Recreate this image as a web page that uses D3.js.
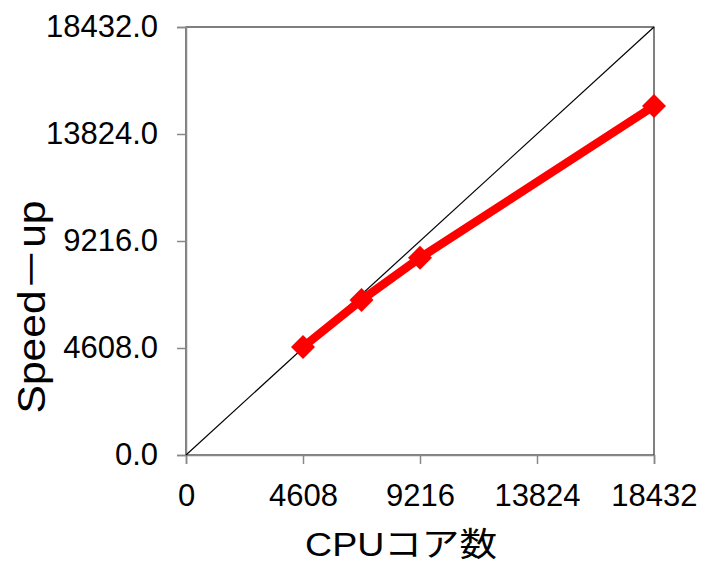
<!DOCTYPE html>
<html><head><meta charset="utf-8">
<script src="https://cdn.jsdelivr.net/npm/d3@7"></script>
<style>body{margin:0;background:#fff}text{font-family:"Liberation Sans","Noto Sans CJK JP",sans-serif;fill:#000}</style>
</head><body>
<svg id="c" width="705" height="562"></svg>
<script>
const cores = [4608, 6912, 9216, 18432];
const speedup = [4650, 6675, 8490, 15030];
const ideal = [0, 18432];
const xTicks = [0, 4608, 9216, 13824, 18432];
const yTicks = [0, 4608, 9216, 13824, 18432];

const svg = d3.select("#c");
const L = 186, R = 654, T = 27, B = 455;
const x = d3.scaleLinear().domain([0, 18432]).range([L, R]);
const y = d3.scaleLinear().domain([0, 18432]).range([B, T]);

svg.append("rect").attr("x", L).attr("y", T).attr("width", R - L).attr("height", B - T)
  .attr("fill", "none").attr("stroke", "#000").attr("stroke-width", 1);

const xa = svg.append("g").attr("transform", `translate(0,${B})`)
  .call(d3.axisBottom(x).tickValues(xTicks).tickSize(9).tickPadding(20).tickFormat(d3.format("d")));
const ya = svg.append("g").attr("transform", `translate(${L},0)`)
  .call(d3.axisLeft(y).tickValues(yTicks).tickSize(9).tickPadding(19).tickFormat(d3.format(".1f")));
[xa, ya].forEach(a => {
  a.select(".domain").attr("stroke", "#888").attr("stroke-width", 1.5);
  a.selectAll(".tick line").attr("stroke", "#888").attr("stroke-width", 1.5);
  a.selectAll(".tick text").attr("font-size", 31).attr("font-family", '"Liberation Sans",sans-serif').attr("fill", "#000");
});
xa.selectAll(".tick text").filter(d => d === 18432).attr("text-anchor", "end").attr("x", 697 - R);

svg.append("line").attr("x1", x(ideal[0])).attr("y1", y(ideal[0]))
  .attr("x2", x(ideal[1])).attr("y2", y(ideal[1])).attr("stroke", "#000").attr("stroke-width", 1.2);

const data = cores.map((c, i) => ({x: c, y: speedup[i]}));
svg.append("path").datum(data)
  .attr("d", d3.line().x(d => x(d.x)).y(d => y(d.y)))
  .attr("fill", "none").attr("stroke", "#ff0000").attr("stroke-width", 8.5);
svg.selectAll(".pt").data(data).enter().append("path")
  .attr("transform", d => `translate(${x(d.x)},${y(d.y)})`)
  .attr("d", "M0,-12L12,0L0,12L-12,0Z").attr("fill", "#ff0000");

svg.append("text").attr("x", 401).attr("y", 556).attr("text-anchor", "middle")
  .attr("font-size", 33).attr("textLength", 192).attr("lengthAdjust", "spacingAndGlyphs").text("CPUコア数");
svg.append("text").attr("transform", `translate(45,307) rotate(-90)`).attr("text-anchor", "middle")
  .attr("font-size", 38).attr("textLength", 213).attr("lengthAdjust", "spacingAndGlyphs").text("Speed－up");
</script>
</body></html>
